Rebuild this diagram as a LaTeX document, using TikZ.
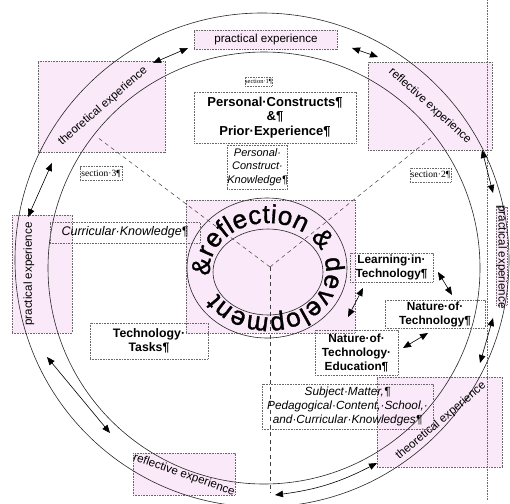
\documentclass[tikz,border=0pt]{standalone}
\usepackage{fontspec}
\setmainfont{Liberation Sans}
\newfontfamily\secfont{Liberation Serif}
\newfontfamily\ringfam{Liberation Sans}[FakeBold=1.2]
\usetikzlibrary{arrows.meta,calc,decorations.text}
\definecolor{pinkfill}{RGB}{250,233,248}
\definecolor{boxline}{RGB}{105,105,105}
\newcommand{\ringfont}{\ringfam\fontsize{26}{26}\selectfont}
\begin{document}
\begin{tikzpicture}[x=1pt,y=-1pt,
  pinkbox/.style={draw=boxline, dash pattern=on 0.8pt off 0.8pt, line width=0.5pt, fill=pinkfill, inner sep=0pt},
  tbox/.style={draw=boxline, dash pattern=on 0.8pt off 0.8pt, line width=0.5pt, inner sep=0pt, align=center},
  exptext/.style={font=\fontsize{11.6}{12}\selectfont, inner sep=0pt},
  boldtxt/.style={font=\fontsize{13}{14.5}\selectfont\bfseries},
  boldsm/.style={font=\fontsize{11.8}{14}\selectfont\bfseries},
  itxt/.style={font=\fontsize{11.8}{13.8}\selectfont\itshape},
  sectxt/.style={font=\secfont\fontsize{9.5}{10}\selectfont},
  ringline/.style={draw=black!85, line width=0.6pt},
  dbl/.style={{Triangle[length=8pt,width=6.5pt]}-{Triangle[length=8pt,width=6.5pt]}, line width=0.6pt},
  cdash/.style={dash pattern=on 4pt off 3.5pt, line width=0.5pt, draw=black!75},
  frame/.style={draw=boxline, dash pattern=on 0.8pt off 0.8pt, line width=0.5pt}
]
\useasboundingbox (0,0) rectangle (510,503);

% pink experience boxes
\node[pinkbox, minimum width=127pt, minimum height=91pt] (tlbox) at (101.5,106.5) {};
\node[pinkbox, minimum width=143pt, minimum height=19pt] (tbox) at (265.5,39.5) {};
\node[pinkbox, minimum width=124pt, minimum height=88pt] (trbox) at (430,106) {};
\node[pinkbox, minimum width=11pt, minimum height=98pt] (rbox) at (501.5,256) {};
\node[pinkbox, minimum width=125pt, minimum height=90pt] (brbox) at (439.5,422) {};
\node[pinkbox, minimum width=102pt, minimum height=42pt] (blbox) at (184,474) {};
\node[pinkbox, minimum width=60pt, minimum height=118pt] (lbox) at (42,274) {};
\node[pinkbox, minimum width=169pt, minimum height=133pt] (cbox) at (270.5,266.5) {};

% frame line on the right
\coordinate (fr1) at (487,0);
\coordinate (fr2) at (487,500);
\draw[frame] (fr1) -- (fr2);

% big circles
\coordinate (oc) at (262,260);
\coordinate (ic) at (264,268);
\draw[ringline] (oc) circle[radius=247pt];
\draw[ringline] (ic) circle[radius=216pt];

% dashed section lines
\coordinate (cc) at (270,267);
\coordinate (d1) at (97,137);
\coordinate (d2) at (432,137);
\coordinate (d3) at (270,493);
\draw[cdash] (cc) -- (d1);
\draw[cdash] (cc) -- (d2);
\draw[cdash] (cc) -- (d3);

% central ring
\coordinate (ringc) at (268,270);
\draw[ringline] (267,268) ellipse[x radius=80pt, y radius=70pt];
\draw[ringline] (268,272) ellipse[x radius=55pt, y radius=43pt];
\coordinate (rs) at ($(ringc)+(187:58pt and 47pt)$);
\path[decorate, decoration={text along path, text={|\ringfont|{\&}reflection {\&} development}, text align={fit to path}}]
  (rs) arc[start angle=187, end angle=-150, x radius=58pt, y radius=47pt];

% experience texts
\node[exptext, rotate=41] (tltext) at (103,106) {theoretical experience};
\node[exptext] (ttext) at (266,40) {practical experience};
\node[exptext, rotate=-42] (trtext) at (430,106) {reflective experience};
\node[exptext, rotate=-90] (rtext) at (501.5,257) {practical experience};
\node[exptext, rotate=40] (brtext) at (441,421) {theoretical experience};
\node[exptext, rotate=-19] (bltext) at (184,475) {reflective experience};
\node[exptext, rotate=90] (ltext) at (29,274) {practical experience};

% text boxes
\node[tbox, minimum width=27pt, minimum height=9pt, font=\secfont\fontsize{6.5}{7}\selectfont] (sec1) at (258.5,81.5) {section·1¶};
\node[tbox, minimum width=42pt, minimum height=14pt, sectxt] (sec3) at (101,173.5) {section·3¶};
\node[tbox, minimum width=41pt, minimum height=14pt, sectxt] (sec2) at (430.5,175) {section·2¶};
\node[tbox, boldtxt, minimum width=162pt, minimum height=51pt] (pers) at (275,117.5) {Personal·Constructs¶\\\&¶\\Prior·Experience¶};
\node[tbox, itxt, font=\fontsize{11}{13.5}\selectfont\itshape, minimum width=59pt, minimum height=44pt] (pck) at (257.5,167) {Personal·\\Construct·\\Knowledge¶};
\node[tbox, font=\fontsize{12.5}{13.5}\selectfont\itshape, minimum width=150pt, minimum height=21pt] (curr) at (125,232.5) {Curricular·Knowledge¶};
\node[tbox, boldtxt, font=\fontsize{12.3}{14}\selectfont\bfseries, minimum width=118pt, minimum height=36pt] (tasks) at (149,341) {Technology·\\Tasks¶};
\node[tbox, boldsm, minimum width=83pt, minimum height=29pt] (learn) at (391.5,267.5) {Learning·in·\\Technology¶};
\node[tbox, boldsm, minimum width=100pt, minimum height=28pt] (nature) at (435,314) {Nature·of·\\Technology¶};
\node[tbox, boldsm, minimum width=83pt, minimum height=45pt] (nte) at (356.5,352.5) {Nature·of·\\Technology·\\Education¶};
\node[tbox, itxt, minimum width=171pt, minimum height=45pt] (subj) at (347.5,406.5) {Subject·Matter,¶\\Pedagogical·Content,·School,·\\and·Curricular·Knowledges¶};

% arrows between experience boxes
\coordinate (a1s) at (153,63);  \coordinate (a1e) at (188,48);
\coordinate (a2s) at (352,48);  \coordinate (a2e) at (378,57);
\coordinate (a3s) at (482,150); \coordinate (a3e) at (493,193);
\coordinate (a4s) at (493,318); \coordinate (a4e) at (480,363);
\coordinate (a5s) at (275,495); \coordinate (a5e) at (377,463);
\coordinate (a6s) at (47,357);  \coordinate (a6e) at (110,433);
\coordinate (a7s) at (28,217);  \coordinate (a7e) at (52,163);
\draw[dbl] (a1s) -- (a1e);
\draw[dbl] (a2s) -- (a2e);
\draw[dbl] (a3s) -- (a3e);
\draw[dbl] (a4s) -- (a4e);
\draw[dbl] (a5s) to[bend right=10] (a5e);
\draw[dbl] (a6s) -- (a6e);
\draw[dbl] (a7s) -- (a7e);

% arrows among inner boxes
\coordinate (b1s) at (438,272); \coordinate (b1e) at (452,295);
\coordinate (b2s) at (428,333); \coordinate (b2e) at (403,348);
\coordinate (b3s) at (363,288); \coordinate (b3e) at (348,317);
\draw[dbl] (b1s) -- (b1e);
\draw[dbl] (b2s) -- (b2e);
\draw[dbl] (b3s) -- (b3e);
\end{tikzpicture}
\end{document}
